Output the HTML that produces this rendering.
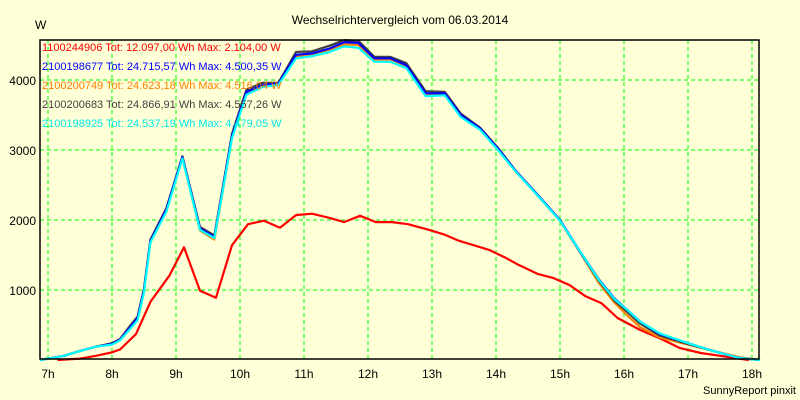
<!DOCTYPE html>
<html><head><meta charset="utf-8"><style>
body{margin:0;background:#ffffd8;}
svg{display:block;font-family:"Liberation Sans",sans-serif;}
</style></head><body>
<svg id="chart" width="800" height="400" viewBox="0 0 800 400">
<rect x="0" y="0" width="800" height="400" fill="#ffffd8"/>
<text x="400" y="24" text-anchor="middle" font-size="12" fill="#000">Wechselrichtervergleich vom 06.03.2014</text>
<text x="35" y="29" font-size="12" fill="#000">W</text>
<g id="grid"></g>
<g id="series"></g>
<rect x="40" y="40" width="719" height="319" fill="none" stroke="#000" stroke-width="1.5"/>
<g id="legend" font-size="11"></g>
<g id="labels" font-size="12"></g>
<text x="796" y="394" text-anchor="end" font-size="11" fill="#000">SunnyReport pinxit</text>
</svg>
<script>
const yTicks=[1000,2000,3000,4000];
const xTicks=[7,8,9,10,11,12,13,14,15,16,17,18];
const mainTimes=[6.875,7.25,7.5,7.75,8.0,8.125,8.25,8.4,8.5,8.6,8.85,9.1,9.375,9.6,9.875,10.1,10.35,10.6,10.875,11.125,11.4,11.625,11.85,12.1,12.35,12.6,12.9,13.2,13.45,13.75,14.05,14.3,14.7,15.0,15.3,15.6,15.85,16.06,16.25,16.56,17.0,17.35,17.8,18.125];
const blueVals=[0,60,130,190,230,290,430,600,1000,1700,2150,2900,1880,1760,3200,3830,3930,3950,4360,4380,4450,4540,4530,4310,4310,4210,3810,3810,3500,3310,3000,2710,2310,2000,1570,1160,880,710,550,370,240,140,30,0];
const blackVals=[0,60,130,190,240,300,450,620,1020,1720,2170,2910,1900,1780,3230,3860,3960,3960,4400,4410,4490,4570,4560,4330,4330,4240,3840,3830,3520,3320,3010,2710,2300,1990,1560,1140,850,680,520,350,230,140,30,0];
const orangeVals=[0,60,130,190,230,290,430,600,1000,1700,2150,2890,1850,1720,3180,3820,3920,3950,4330,4360,4430,4510,4500,4290,4290,4200,3800,3800,3490,3300,2990,2700,2300,1990,1560,1110,820,630,470,320,220,140,40,0];
const cyanVals=[0,60,130,190,220,280,410,570,970,1680,2120,2880,1860,1740,3170,3790,3900,3930,4310,4340,4400,4480,4460,4260,4260,4170,3770,3780,3470,3290,2980,2700,2300,1990,1570,1150,870,710,550,380,240,140,30,0];
const redTimes=[7.15,7.5,7.75,8.0,8.125,8.375,8.6,8.9,9.125,9.375,9.625,9.875,10.125,10.375,10.625,10.875,11.125,11.4,11.625,11.875,12.125,12.375,12.625,12.95,13.2,13.4,13.65,13.9,14.15,14.35,14.65,14.9,15.15,15.4,15.65,15.9,16.25,16.56,16.875,17.2,17.5,17.8,17.95];
const redVals=[0,20,60,110,150,370,830,1210,1610,990,890,1640,1940,1990,1890,2070,2090,2030,1970,2060,1970,1970,1940,1860,1790,1710,1640,1570,1460,1360,1230,1170,1070,910,810,600,430,310,170,100,60,20,0];
const legendTexts=["1100244906 Tot: 12.097,00 Wh Max: 2.104,00 W","2100198677 Tot: 24.715,57 Wh Max: 4.500,35 W","2100200749 Tot: 24.623,18 Wh Max: 4.516,04 W","2100200683 Tot: 24.866,91 Wh Max: 4.557,26 W","2100198925 Tot: 24.537,19 Wh Max: 4.479,05 W"];
const NS="http://www.w3.org/2000/svg";
function xs(h){return 48+64*(h-7);}
function ys(v){return 360-v*0.07;}
const grid=document.getElementById('grid');
const labels=document.getElementById('labels');
yTicks.forEach(v=>{
  const l=document.createElementNS(NS,'line');
  
  
  l.setAttribute('x1',40);l.setAttribute('x2',759);l.setAttribute('y1',ys(v));l.setAttribute('y2',ys(v));
  l.setAttribute('stroke','#00ff00');l.setAttribute('stroke-dasharray','4,3');
  grid.appendChild(l);
  const t=document.createElementNS(NS,'text');
  
  
  t.setAttribute('x',36);t.setAttribute('y',ys(v)+5);t.setAttribute('text-anchor','end');
  t.textContent=v;labels.appendChild(t);
});
xTicks.forEach(h=>{
  const l=document.createElementNS(NS,'line');
  
  
  l.setAttribute('x1',xs(h));l.setAttribute('x2',xs(h));l.setAttribute('y1',40);l.setAttribute('y2',359);
  l.setAttribute('stroke','#00ff00');l.setAttribute('stroke-dasharray','4,3');
  grid.appendChild(l);
  const t=document.createElementNS(NS,'text');
  
  
  t.setAttribute('x',xs(h));t.setAttribute('y',378);t.setAttribute('text-anchor','middle');
  t.textContent=h+'h';labels.appendChild(t);
});
const series=document.getElementById('series');
function draw(times,vals,color,name){
  const p=document.createElementNS(NS,'polyline');
  
  
  p.setAttribute('points',times.map((t,i)=>xs(t).toFixed(1)+','+ys(vals[i]).toFixed(1)).join(' '));
  p.setAttribute('fill','none');p.setAttribute('stroke',color);p.setAttribute('stroke-width','2.2');
  p.setAttribute('stroke-linejoin','round');
  series.appendChild(p);
}
draw(redTimes,redVals,'#ff0000','series-1100244906');
draw(mainTimes,orangeVals,'#ff8000','series-2100200749');
draw(mainTimes,blackVals,'#404040','series-2100200683');
draw(mainTimes,blueVals,'#0000ff','series-2100198677');
draw(mainTimes,cyanVals,'#00ffff','series-2100198925');
const legendColors=['#ff0000','#0000ff','#ff8000','#404040','#00e8e8'];
const legend=document.getElementById('legend');
legendTexts.forEach((s,i)=>{
  const t=document.createElementNS(NS,'text');
  
  
  t.setAttribute('x',42);t.setAttribute('y',51+19*i);t.setAttribute('fill',legendColors[i]);
  t.textContent=s;legend.appendChild(t);
});
</script>
</body></html>
